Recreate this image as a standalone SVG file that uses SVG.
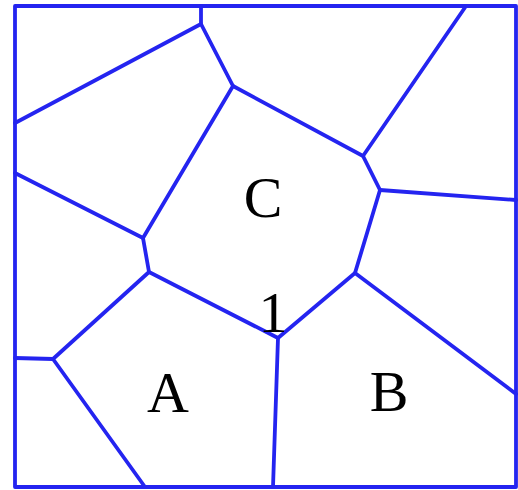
<svg xmlns="http://www.w3.org/2000/svg" width="518" height="490" viewBox="0 0 518 490">
<style>
.e{stroke:#2424f0;stroke-width:3.8;fill:none;stroke-linecap:round;stroke-linejoin:round}
.lbl{font-family:"Liberation Serif",serif;font-size:58px;fill:#000;text-anchor:middle}
</style>
<rect width="518" height="490" fill="#fff"/>
<g id="edges">
<rect class="e" x="15" y="6" width="501" height="481"/>
<polyline class="e" points="201,6 201,24 233,86 143,238 149,272 278,338 273,487"/>
<line class="e" x1="201" y1="24" x2="15" y2="123"/>
<line class="e" x1="15" y1="173" x2="143" y2="238"/>
<polyline class="e" points="233,86 363,156 380,190 355,273 278,338"/>
<line class="e" x1="363" y1="156" x2="466" y2="6"/>
<line class="e" x1="380" y1="190" x2="516" y2="200"/>
<line class="e" x1="355" y1="273" x2="516" y2="394"/>
<polyline class="e" points="149,272 53,359 145,487"/>
<line class="e" x1="53" y1="359" x2="15" y2="358"/>
</g>
<g id="labels">
<text id="C" class="lbl" x="263" y="217">C</text>
<text id="A" class="lbl" x="168" y="412">A</text>
<text id="B" class="lbl" x="389" y="411">B</text>
<text id="one" class="lbl" x="273" y="332">1</text>
</g>
</svg>
